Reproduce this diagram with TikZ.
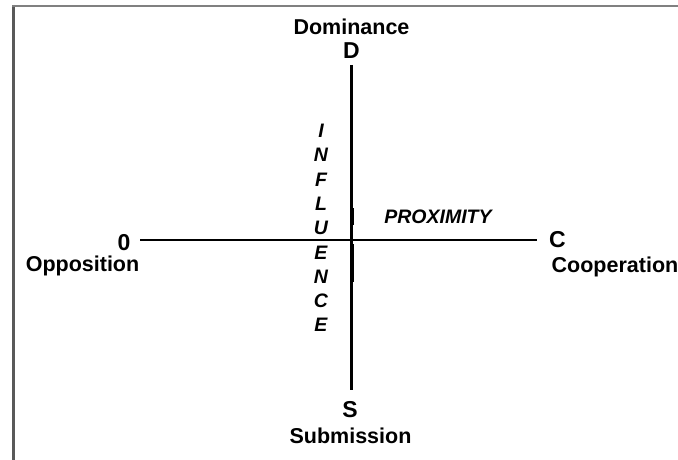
\documentclass[tikz,border=0pt]{standalone}
\usepackage{fontspec}
\setmainfont{Liberation Sans}
\begin{document}
\begin{tikzpicture}[x=1pt, y=-1pt,
    pole/.style={anchor=base, font=\bfseries\fontsize{23}{24}\selectfont},
    poletext/.style={anchor=base, font=\bfseries\fontsize{21.5}{24}\selectfont},
    axislabel/.style={anchor=base, font=\bfseries\itshape\fontsize{19.5}{20}\selectfont}]
    % 1. Picture area and frame edges
    \useasboundingbox (0, 0) rectangle (678, 460);
    \draw[line width=3pt, black!65] (13, 5) -- (13, 460);
    \draw[line width=2pt, black!50] (12, 6) -- (678, 6);

    % 2. Axis end points
    \coordinate (Oend) at (140, 240);
    \coordinate (Cend) at (537, 240);
    \coordinate (Dend) at (351.5, 65);
    \coordinate (Send) at (351.5, 390);

    % 3. Axes
    \draw[line width=2.5pt] (Oend) -- (Cend);
    \draw[line width=2.2pt] (Dend) -- (Send);
    \draw[line width=1pt] (353, 208) -- (353, 225);
    \draw[line width=1pt] (353, 244) -- (353, 282);

    % 4. Pole labels
    \node[poletext] (dominance) at (351.5, 35) {Dominance};
    \node[pole] (D) at (351.5, 59) {D};
    \node[pole] (S) at (350, 417) {S};
    \node[poletext] (submission) at (350.5, 443) {Submission};
    \node[pole] (O) at (124, 250) {0};
    \node[poletext] (opposition) at (82.5, 271.5) {Opposition};
    \node[pole] (C) at (557.5, 247) {C};
    \node[poletext] (cooperation) at (615, 272.5) {Cooperation};

    % 5. Axis names
    \node[axislabel] (proximity) at (438, 223.3) {PROXIMITY};
    \foreach \letter [count=\i] in {I,N,F,L,U,E,N,C,E}
        \node[axislabel] (infl\i) at (321, {137.5 + 24.3*(\i-1)}) {\letter};
\end{tikzpicture}
\end{document}
